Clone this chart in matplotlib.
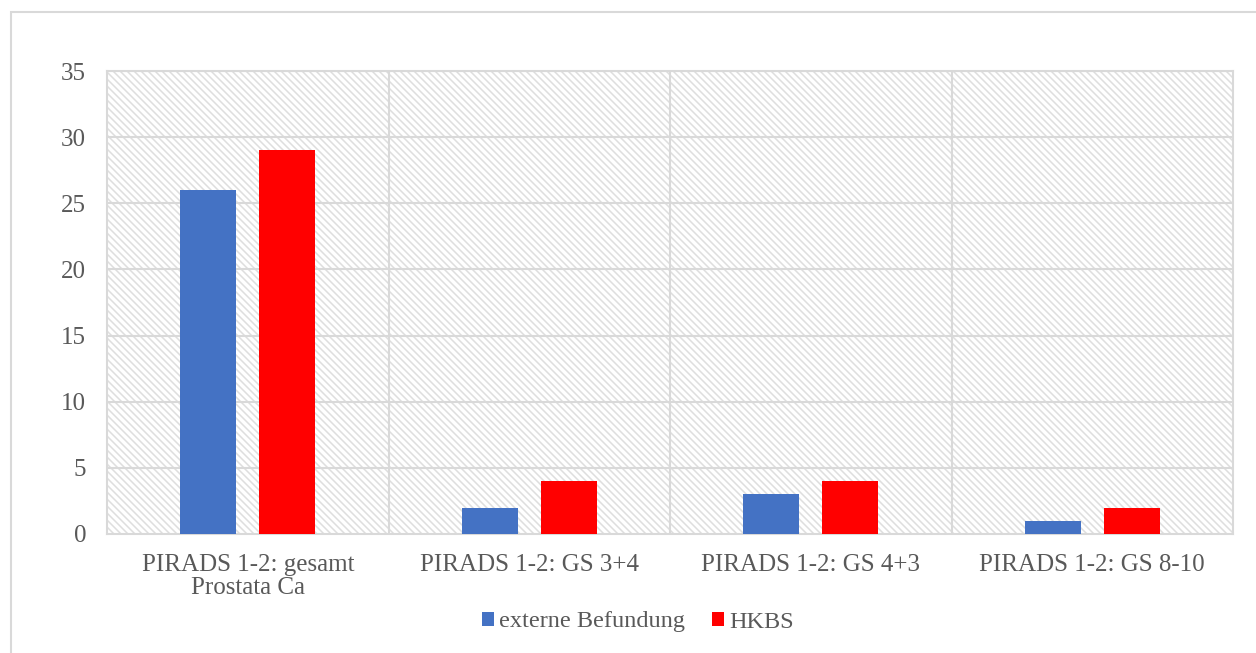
import matplotlib
matplotlib.use("Agg")
import matplotlib.pyplot as plt
import numpy as np
from matplotlib.patches import Rectangle
from matplotlib.collections import LineCollection
import matplotlib.transforms as mtransforms

categories = ["PIRADS 1-2: gesamt\nProstata Ca", "PIRADS 1-2: GS 3+4", "PIRADS 1-2: GS 4+3", "PIRADS 1-2: GS 8-10"]
externe = [26, 2, 3, 1]
hkbs = [29, 4, 4, 2]
series_names = ["externe Befundung", "HKBS"]
yticks = [0, 5, 10, 15, 20, 25, 30, 35]

plt.rcParams['font.family'] = ['Liberation Serif', 'DejaVu Serif']

W, H = 1256, 653
fig = plt.figure(figsize=(W/100, H/100), dpi=100)
fig.patches.append(Rectangle((11/W, -0.05), 1.1, 1 - 12/H + 0.05, transform=fig.transFigure,
                             fill=False, edgecolor='#d9d9d9', linewidth=1.5))

ax_l, ax_r, ax_t, ax_b = 107, 1233, 71, 534
aw, ah = ax_r - ax_l, ax_b - ax_t
ax = fig.add_axes([ax_l/W, 1 - ax_b/H, aw/W, ah/H])
ax.set_xlim(-0.5, 3.5)
ax.set_ylim(0, 35)

# diagonal hatch background (pixel spacing)
step = 7
segs = [[(c, ah), (c + ah, 0)] for c in np.arange(-ah, aw + step, step)]
hatch_tr = mtransforms.Affine2D().scale(1/aw, 1/ah) + ax.transAxes
lc = LineCollection(segs, colors='#dedede', linewidths=1.1, transform=hatch_tr, zorder=0)
ax.add_collection(lc, autolim=False)

x = np.arange(len(categories))
w = 0.2
off = 0.14
ax.bar(x - off, externe, w, color='#4472c4', label=series_names[0], zorder=3)
ax.bar(x + off, hkbs, w, color='#ff0000', label=series_names[1], zorder=3)

ax.set_yticks(yticks)
ax.set_yticklabels([str(v) for v in yticks])
ax.set_xticks(x)
ax.set_xticklabels(categories, linespacing=1.05)
ax.tick_params(axis='both', length=0, labelsize=18, labelcolor='#595959')
ax.tick_params(axis='y', pad=15)
ax.tick_params(axis='x', pad=14.5)

for v in yticks[1:]:
    ax.axhline(v, color='#d9d9d9', linewidth=1.5, zorder=1)
for b in [0.5, 1.5, 2.5]:
    ax.axvline(b, color='#d9d9d9', linewidth=1.5, zorder=1)
for s in ax.spines.values():
    s.set_color('#d9d9d9')
    s.set_linewidth(1.5)

leg = fig.legend(loc='center', bbox_to_anchor=(638/W, 1 - 622/H), ncol=2, frameon=False,
                 fontsize=17.5, handlelength=0.5, handleheight=0.5, handletextpad=0.2,
                 columnspacing=1.1, labelcolor='#595959')

fig.savefig("out.png", dpi=100)
